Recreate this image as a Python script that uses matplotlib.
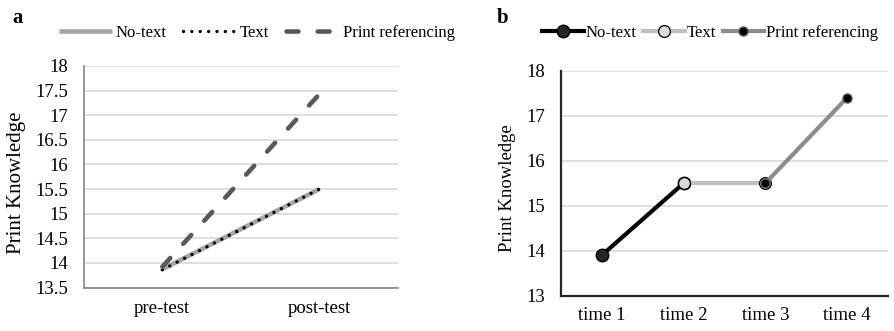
import numpy as np
import matplotlib.pyplot as plt

plt.rcParams['font.family'] = ['Liberation Serif', 'DejaVu Serif']

# panel a
cats_a = ['pre-test', 'post-test']
notext_a = [13.87, 15.5]
text_a = [13.86, 15.5]
printref_a = [13.92, 17.43]
yticks_a = [13.5, 14, 14.5, 15, 15.5, 16, 16.5, 17, 17.5, 18]

# panel b
cats_b = ['time 1', 'time 2', 'time 3', 'time 4']
notext_b = [13.9, 15.5, np.nan, np.nan]
text_b = [np.nan, 15.5, 15.5, np.nan]
printref_b = [np.nan, np.nan, 15.5, 17.4]
yticks_b = [13, 14, 15, 16, 17, 18]

fig = plt.figure(figsize=(8.95, 3.31), dpi=100)
ax1 = fig.add_axes([83.7/895, 1-287.5/331, 314.3/895, 221.5/331])
ax2 = fig.add_axes([561/895, 1-295.7/331, 327/895, 225/331])

grid_c = '#d9d9d9'

# ---- a
x = np.arange(len(cats_a))
ax1.plot(x, notext_a, color='#a6a6a6', lw=3.3, solid_capstyle='butt', label='No-text')
ax1.plot(x, text_a, color='black', lw=2.4, ls=(0, (0.01, 2.5)), dash_capstyle='round', label='Text')
ax1.plot(x, printref_a, color='#595959', lw=3.3, ls=(0, (2.6, 4.2)), dash_capstyle='round',
         label='Print referencing')
ax1.set_xlim(-0.5, 1.5)
ax1.set_ylim(13.5, 18)
ax1.set_yticks(yticks_a)
ax1.set_yticklabels([f'{v:g}' for v in yticks_a])
ax1.set_xticks(x)
ax1.set_xticklabels(cats_a)
ax1.yaxis.grid(True, color=grid_c, lw=1.2)
ax1.set_axisbelow(True)
for s in ['top', 'right']:
    ax1.spines[s].set_visible(False)
ax1.spines['left'].set_color('#868686')
ax1.spines['bottom'].set_color('#868686')
ax1.spines['left'].set_linewidth(1.2)
ax1.spines['bottom'].set_linewidth(1.2)
ax1.tick_params(length=0, labelsize=13.5, pad=11)
ax1.tick_params(axis='x', pad=9)
fig.text(17/895, 1-182.5/331, 'Print Knowledge', rotation=90, fontsize=15,
         ha='center', va='center')
ax1.legend(loc='center', bbox_to_anchor=(257/895, 1-33/331), bbox_transform=fig.transFigure,
           ncol=3, frameon=False, fontsize=12, handlelength=3.2, columnspacing=1.0,
           handletextpad=0.2)
fig.text(12/895, 1-18/331, 'a', fontsize=15, fontweight='bold', va='center')

# ---- b
xb = np.arange(len(cats_b))
ax2.plot(xb, notext_b, color='black', lw=3, marker='o', ms=9, mfc='#262626', mec='black',
         label='No-text')
ax2.plot(xb, text_b, color='#bfbfbf', lw=3, marker='o', ms=8.5, mfc='#d9d9d9', mec='black',
         mew=0.9, label='Text')
ax2.plot(xb, printref_b, color='#8c8c8c', lw=3, marker='o', ms=6.5, mfc='black', mec='#595959',
         label='Print referencing')
ax2.set_xlim(-0.5, 3.5)
ax2.set_ylim(13, 18)
ax2.set_yticks(yticks_b)
ax2.set_xticks(xb)
ax2.set_xticklabels(cats_b)
ax2.yaxis.grid(True, color=grid_c, lw=1.2)
ax2.set_axisbelow(True)
for s in ['top', 'right']:
    ax2.spines[s].set_visible(False)
ax2.spines['left'].set_color('#262626')
ax2.spines['bottom'].set_color('#262626')
ax2.spines['left'].set_linewidth(1.6)
ax2.spines['bottom'].set_linewidth(1.6)
ax2.tick_params(length=0, labelsize=13.5, pad=11.5)
ax2.tick_params(axis='x', pad=8)
fig.text(507/895, 1-188.5/331, 'Print Knowledge', rotation=90, fontsize=13.5,
         ha='center', va='center')
ax2.legend(loc='center', bbox_to_anchor=(710/895, 1-33/331), bbox_transform=fig.transFigure,
           ncol=3, frameon=False, fontsize=12, handlelength=2.5, columnspacing=0.4,
           handletextpad=0.1)
fig.text(497/895, 1-18/331, 'b', fontsize=15, fontweight='bold', va='center')

fig.savefig('out.png', dpi=100)
